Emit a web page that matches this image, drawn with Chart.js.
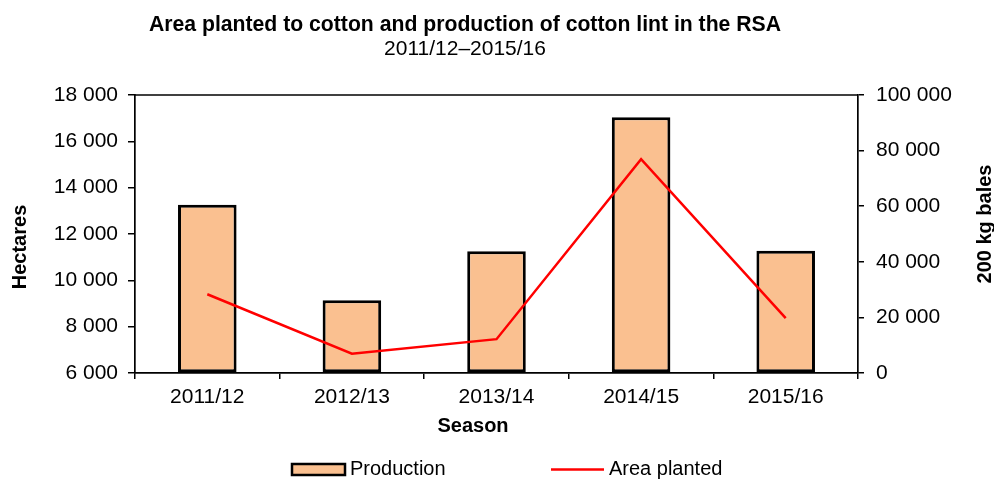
<!DOCTYPE html>
<html>
<head>
<meta charset="utf-8">
<script src="https://cdn.jsdelivr.net/npm/chart.js@4.4.1/dist/chart.umd.min.js"></script>
<style>
  html, body { margin: 0; padding: 0; background: #fff; }
  #wrap { width: 994px; height: 479px; position: relative; }
</style>
</head>
<body>
<div id="wrap"><canvas id="cottonChart"></canvas></div>
<script>
// ===== data =====
const seasons = ["2011/12", "2012/13", "2013/14", "2014/15", "2015/16"];
const production = [60500, 26200, 43800, 92000, 44000];   // 200 kg bales (right axis)
const areaPlanted = [9400, 6830, 7460, 15230, 8370];       // hectares (left axis)

const hectareMin = 6000, hectareMax = 18000, hectareStep = 2000;
const balesMin = 0, balesMax = 100000, balesStep = 20000;

const chartTitle = "Area planted to cotton and production of cotton lint in the RSA";
const chartSubtitle = "2011/12–2015/16";
const xTitle = "Season";
const yTitle = "Hectares";
const y1Title = "200 kg bales";

const FONT = "'Liberation Sans', Arial, sans-serif";
const BAR_FILL = "#FAC090";

// "18 000" style
const fmtNum = (v) => String(v).replace(/\B(?=(\d{3})+(?!\d))/g, " ");

// titles, axis titles, legend and the top frame line
const decorations = {
  id: "decorations",
  afterDraw(chart) {
    const { ctx, chartArea } = chart;
    ctx.save();

    // top border of plot frame
    ctx.strokeStyle = "#000";
    ctx.lineWidth = 1.7;
    ctx.beginPath();
    ctx.moveTo(chartArea.left, chartArea.top);
    ctx.lineTo(chartArea.right, chartArea.top);
    ctx.stroke();

    ctx.fillStyle = "#000";
    ctx.textAlign = "center";
    ctx.textBaseline = "middle";

    ctx.font = `bold 21.2px ${FONT}`;
    ctx.fillText(chartTitle, 465, 25);
    ctx.font = `21px ${FONT}`;
    ctx.fillText(chartSubtitle, 465, 49);

    ctx.font = `bold 20px ${FONT}`;
    ctx.fillText(xTitle, 473, 426);

    ctx.save();
    ctx.translate(20, 247);
    ctx.rotate(-Math.PI / 2);
    ctx.fillText(yTitle, 0, 0);
    ctx.restore();

    ctx.save();
    ctx.translate(985, 224);
    ctx.rotate(-Math.PI / 2);
    ctx.fillText(y1Title, 0, 0);
    ctx.restore();

    // legend
    const barDs = chart.data.datasets.find(d => d.type === "bar");
    const lineDs = chart.data.datasets.find(d => d.type === "line");
    const ly = 469.5;
    ctx.font = `20px ${FONT}`;
    ctx.textAlign = "left";

    ctx.fillStyle = barDs.backgroundColor;
    ctx.fillRect(292, 464, 53, 11);
    ctx.strokeStyle = barDs.borderColor;
    ctx.lineWidth = 2.5;
    ctx.strokeRect(292, 464, 53, 11);
    ctx.fillStyle = "#000";
    ctx.fillText(barDs.label, 350, ly);

    ctx.strokeStyle = lineDs.borderColor;
    ctx.lineWidth = lineDs.borderWidth;
    ctx.beginPath();
    ctx.moveTo(551, ly);
    ctx.lineTo(604, ly);
    ctx.stroke();
    ctx.fillText(lineDs.label, 609, ly);

    ctx.restore();
  }
};

new Chart(document.getElementById("cottonChart"), {
  data: {
    labels: seasons,
    datasets: [
      {
        type: "line",
        label: "Area planted",
        data: areaPlanted,
        yAxisID: "y",
        borderColor: "#FF0000",
        borderWidth: 2.5,
        pointRadius: 0,
        tension: 0,
        order: 1,
      },
      {
        type: "bar",
        label: "Production",
        data: production,
        yAxisID: "y1",
        backgroundColor: BAR_FILL,
        borderColor: "#000",
        borderWidth: 3,
        borderSkipped: false,
        categoryPercentage: 1,
        barPercentage: 0.405,
        order: 2,
      }
    ]
  },
  options: {
    responsive: true,
    maintainAspectRatio: false,
    animation: false,
    layout: { padding: { top: 95, left: 0, right: 0, bottom: 0 } },
    plugins: {
      legend: { display: false },
      title: { display: false },
      tooltip: { enabled: false },
    },
    scales: {
      x: {
        offset: true,
        grid: {
          offset: true,
          drawOnChartArea: false,
          drawTicks: true,
          tickLength: 6,
          color: "#000",
          lineWidth: 1.5,
        },
        border: { display: true, color: "#000", width: 1.7 },
        ticks: { color: "#000", padding: 6, font: { family: FONT, size: 21 }, maxRotation: 0 },
        afterFit: (s) => { s.height = 106; },
      },
      y: {
        position: "left",
        min: hectareMin,
        max: hectareMax,
        grid: {
          drawOnChartArea: false,
          drawTicks: true,
          tickLength: 7,
          color: "#000",
          lineWidth: 1.5,
        },
        border: { display: true, color: "#000", width: 1.7 },
        ticks: {
          stepSize: hectareStep,
          color: "#000",
          padding: 10,
          font: { family: FONT, size: 21 },
          callback: (v) => fmtNum(v),
        },
        afterFit: (s) => { s.width = 135; },
      },
      y1: {
        position: "right",
        min: balesMin,
        max: balesMax,
        grid: {
          drawOnChartArea: false,
          drawTicks: true,
          tickLength: 6,
          color: "#000",
          lineWidth: 1.5,
        },
        border: { display: true, color: "#000", width: 1.7 },
        ticks: {
          stepSize: balesStep,
          color: "#000",
          padding: 12,
          font: { family: FONT, size: 21 },
          callback: (v) => fmtNum(v),
        },
        afterFit: (s) => { s.width = 136; },
      }
    }
  },
  plugins: [decorations]
});
</script>
</body>
</html>
